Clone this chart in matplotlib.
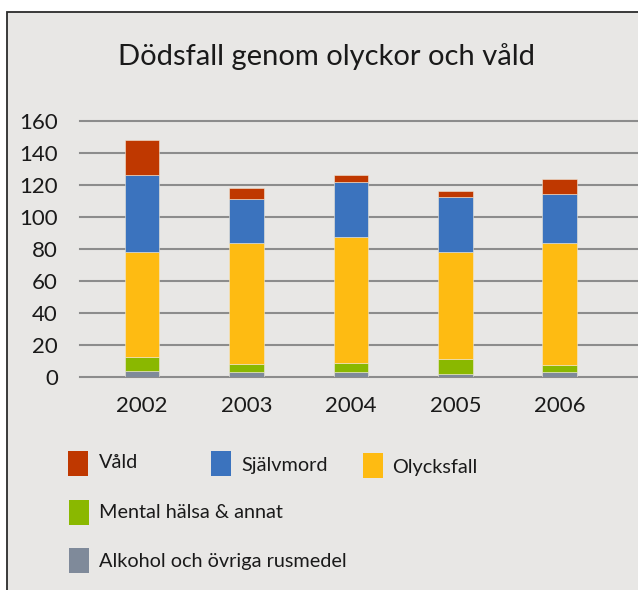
import matplotlib.pyplot as plt
from matplotlib.patches import Rectangle

plt.rcParams['font.family'] = ['Lato', 'DejaVu Sans']

# Data
years = ['2002', '2003', '2004', '2005', '2006']
alkohol = [3.5, 3, 3, 2, 3]
mental = [9, 5, 6, 9, 4.5]
olycksfall = [65.5, 75.5, 78.3, 67, 76.2]
sjalvmord = [48.5, 28, 34.7, 34.5, 30.8]
vald = [21.5, 6.5, 4.5, 3.5, 9.5]

series = [
    ('Alkohol och övriga rusmedel', alkohol, '#7f8a9a'),
    ('Mental hälsa & annat', mental, '#8ab800'),
    ('Olycksfall', olycksfall, '#febb12'),
    ('Självmord', sjalvmord, '#3b73be'),
    ('Våld', vald, '#bf3800'),
]

W, H = 638, 590
bg = '#e8e7e5'
fig = plt.figure(figsize=(W / 100, H / 100), dpi=100, facecolor='white')

# gray panel with dark top/left border
fig.patches.append(Rectangle((7 / W, -0.1), 1.2, (H - 12) / H + 0.1,
                             transform=fig.transFigure, facecolor=bg,
                             edgecolor='#2b2b2b', linewidth=1.3, zorder=-1))

ax = fig.add_axes([80 / W, 1 - 377 / H, 1 - 80 / W, (377 - 121) / H])
ax.set_zorder(1)
ax.set_facecolor('none')

x = list(range(len(years)))
bottom = [0] * len(years)
for name, vals, col in series:
    ax.bar(x, vals, width=0.33, bottom=bottom, color=col,
           edgecolor='#f0e8d8', linewidth=0.4, zorder=3)
    bottom = [b + v for b, v in zip(bottom, vals)]

ax.set_ylim(0, 160)
ax.set_xlim(-0.594, 4.75)
ax.set_yticks(range(0, 161, 20))
ax.set_xticks(x)
ax.set_xticklabels(years)
for s in ax.spines.values():
    s.set_visible(False)
ax.yaxis.grid(True, color='#8c8c8c', linewidth=1.5)
for line in ax.get_ygridlines():
    line.set_clip_on(False)
ax.set_axisbelow(True)
ax.tick_params(axis='both', length=0, labelsize=16, colors='#1a1a1a')
ax.tick_params(axis='y', pad=16)
ax.tick_params(axis='x', pad=14)

fig.text(326 / W, 1 - 57 / H, 'Dödsfall genom olyckor och våld',
         ha='center', va='center', fontsize=21, color='#1a1a1a')

# legend laid out like the reference
legend_pos = {
    'Våld': (68, 451, 99, 463),
    'Självmord': (211, 451, 241, 466),
    'Olycksfall': (363, 453, 392, 468),
    'Mental hälsa & annat': (69, 500, 99, 513),
    'Alkohol och övriga rusmedel': (69, 548, 99, 561),
}
for name, vals, col in series:
    px, py, tx, ty = legend_pos[name]
    fig.patches.append(Rectangle((px / W, 1 - (py + 25) / H), 20 / W, 25 / H,
                                 transform=fig.transFigure, facecolor=col,
                                 edgecolor='none', zorder=2))
    fig.text(tx / W, 1 - ty / H, name, ha='left', va='center',
             fontsize=14.3, color='#1a1a1a')

fig.savefig('out.png', dpi=100, facecolor='white')
